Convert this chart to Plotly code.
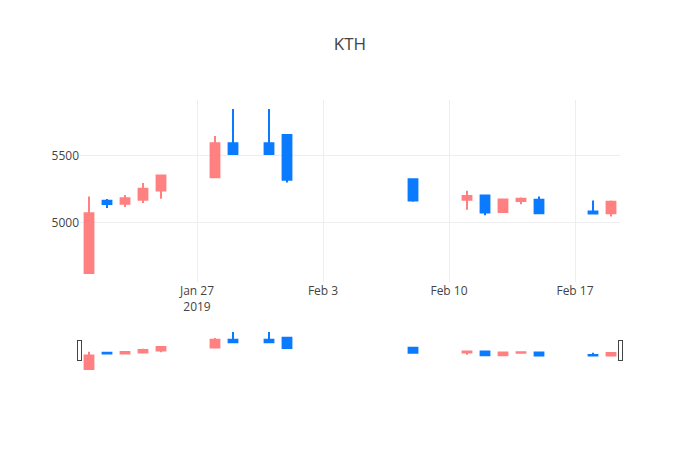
import plotly.graph_objects as go

dates = ["2019-01-21", "2019-01-22", "2019-01-23", "2019-01-24", "2019-01-25",
         "2019-01-28", "2019-01-29", "2019-01-31", "2019-02-01",
         "2019-02-08", "2019-02-11", "2019-02-12", "2019-02-13", "2019-02-14",
         "2019-02-15", "2019-02-18", "2019-02-19"]
open_ = [4625, 5164, 5142, 5172, 5241, 5341, 5595, 5595, 5657, 5326, 5172, 5204, 5080, 5162, 5172, 5084, 5072]
high = [5196, 5177, 5207, 5298, 5353, 5649, 5850, 5850, 5657, 5331, 5239, 5204, 5174, 5189, 5196, 5166, 5166]
low = [4625, 5110, 5117, 5147, 5179, 5341, 5510, 5510, 5301, 5157, 5097, 5057, 5080, 5139, 5072, 5069, 5047]
close = [5072, 5140, 5184, 5254, 5353, 5595, 5515, 5515, 5321, 5166, 5201, 5077, 5174, 5179, 5072, 5069, 5157]

red = "#FF8080"
blue = "#0A7BFF"

fig = go.Figure(go.Candlestick(
    x=dates, open=open_, high=high, low=low, close=close,
    increasing=dict(line=dict(color=red), fillcolor=red),
    decreasing=dict(line=dict(color=blue), fillcolor=blue),
))
fig.update_layout(
    title=dict(text="KTH", x=0.5),
    width=700, height=450,
    template="none",
    showlegend=False,
)
fig.update_yaxes(tickvals=[5000, 5500])
fig.write_html("out.html")
